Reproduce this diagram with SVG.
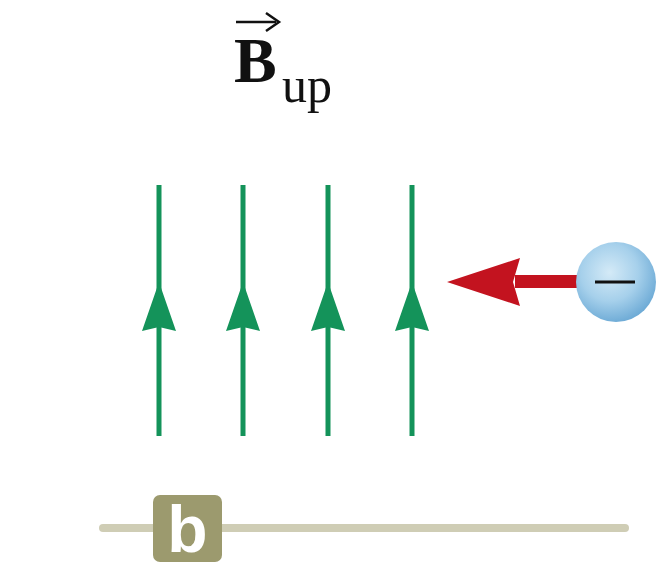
<svg xmlns="http://www.w3.org/2000/svg" width="657" height="582" viewBox="0 0 657 582">
<defs>
<radialGradient id="sph" cx="0.42" cy="0.38" r="0.65">
<stop offset="0" stop-color="#d4eaf7"/>
<stop offset="0.55" stop-color="#a6d0eb"/>
<stop offset="1" stop-color="#6ba9d5"/>
</radialGradient>
<style>
.fl{stroke:#14935a;stroke-width:5;fill:none}
.ah{fill:#14935a}
.t{font-family:"Liberation Serif",serif;fill:#111}
</style>
</defs>
<rect width="657" height="582" fill="#fff"/>
<g id="title">
<text class="t" x="234" y="82" font-size="64" font-weight="bold">B</text>
<text class="t" x="282" y="102" font-size="50">up</text>
<line x1="236" y1="22" x2="276" y2="22" stroke="#111" stroke-width="2.5"/>
<path d="M266,13 L279,22 L266,31" fill="none" stroke="#111" stroke-width="2.5"/>
</g>
<g id="field">
<line class="fl" x1="159" y1="185" x2="159" y2="436"/>
<line class="fl" x1="243" y1="185" x2="243" y2="436"/>
<line class="fl" x1="328" y1="185" x2="328" y2="436"/>
<line class="fl" x1="412" y1="185" x2="412" y2="436"/>
<path class="ah" d="M159,282 L176,331 L159,327 L142,331 Z"/>
<path class="ah" d="M243,282 L260,331 L243,327 L226,331 Z"/>
<path class="ah" d="M328,282 L345,331 L328,327 L311,331 Z"/>
<path class="ah" d="M412,282 L429,331 L412,327 L395,331 Z"/>
</g>
<g id="velocity">
<rect x="515" y="275" width="65" height="13" fill="#c3131f"/>
<path d="M447,282 L520,258 L513,282 L520,306 Z" fill="#c3131f"/>
</g>
<g id="charge">
<circle cx="616" cy="282" r="40" fill="url(#sph)"/>
<line x1="595" y1="282" x2="635" y2="282" stroke="#111" stroke-width="3"/>
</g>
<g id="label">
<line x1="103" y1="528" x2="625" y2="528" stroke="#cfcdb5" stroke-width="8" stroke-linecap="round"/>
<rect x="153" y="495" width="69" height="67" rx="7" fill="#9c9a6e"/>
<text x="187.5" y="552" text-anchor="middle" font-family="Liberation Sans Narrow,Liberation Sans,sans-serif" font-weight="bold" font-size="66" fill="#fff">b</text>
</g>
</svg>
